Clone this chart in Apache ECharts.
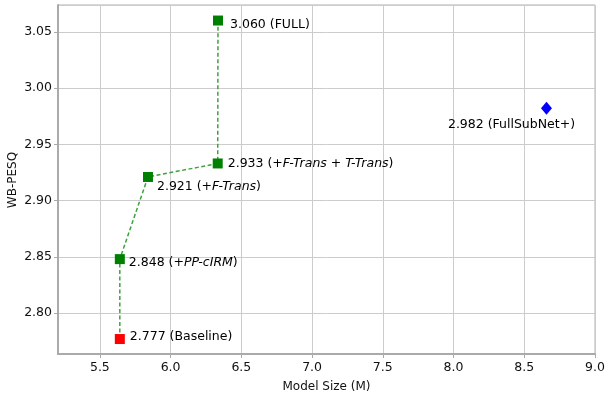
<!DOCTYPE html>
<html><head><meta charset="utf-8">
<script src="https://cdn.jsdelivr.net/npm/echarts@6/dist/echarts.min.js"></script>
<style>html,body{margin:0;padding:0;background:#fff}#c{width:606px;height:394px}</style>
</head><body><div id="c"></div>
<script>
// Ablation path (green) and points
const pathSizes = [5.641, 5.641, 5.84, 6.333, 6.335];
const pathPesq = [2.777, 2.848, 2.921, 2.933, 3.060];
const pathLabels = [
  ['2.777 (Baseline)'],
  ['2.848 (+', 'PP-cIRM', ')'],
  ['2.921 (+', 'F-Trans', ')'],
  ['2.933 (+', 'F-Trans', ' + ', 'T-Trans', ')'],
  ['3.060 (FULL)']
];
const refSize = [8.657];
const refPesq = [2.982];
const refLabel = ['2.982 (FullSubNet+)'];
const xTicks = [5.5, 6.0, 6.5, 7.0, 7.5, 8.0, 8.5, 9.0];
const yTicks = [2.80, 2.85, 2.90, 2.95, 3.00, 3.05];
const xTitle = 'Model Size (M)';
const yTitle = 'WB-PESQ';

const FONT = 'DejaVu Sans';
const offsets = [[10, -2], [9, 4], [9, 10], [10, 0], [12, 4]];
function fmt(parts) {
  return parts.map((p, i) => (i % 2 === 0 ? '{n|' : '{i|') + p + '}').join('');
}
const rich = {
  n: {fontFamily: FONT, fontSize: 12.5, color: '#000'},
  i: {fontFamily: FONT, fontSize: 12.5, color: '#000', fontStyle: 'italic'}
};
const greenPts = pathSizes.map((x, k) => ({
  value: [x, pathPesq[k]],
  itemStyle: {color: k === 0 ? '#ff0000' : '#008000', opacity: 1},
  label: {
    show: true, position: 'inside', align: 'left', verticalAlign: 'middle', color: '#000',
    fontFamily: FONT, fontSize: 12.5,
    offset: offsets[k], formatter: fmt(pathLabels[k]), rich: rich
  }
}));

const chart = echarts.init(document.getElementById('c'), null, {renderer: 'canvas'});
chart.setOption({
  animation: false,
  backgroundColor: '#fff',
  textStyle: {fontFamily: FONT},
  grid: {left: 58, right: 11, top: 5, bottom: 40, outerBoundsMode: 'none', containLabel: false,
    show: true, borderColor: '#b0b0b0', borderWidth: 1},
  graphic: [{
    type: 'text', x: 13, y: 180, rotation: Math.PI / 2,
    style: {text: yTitle, fontFamily: FONT, fontSize: 12, fill: '#111', align: 'center', verticalAlign: 'middle'}
  }],
  xAxis: {
    type: 'value', min: 5.204, max: 9.0, minInterval: 0.5, maxInterval: 0.5,
    name: xTitle, nameLocation: 'middle', nameGap: 27,
    nameTextStyle: {fontFamily: FONT, fontSize: 12, color: '#111'},
    axisLine: {show: true, onZero: false, lineStyle: {color: '#aaaaaa', width: 2}},
    axisTick: {show: true, length: 4, lineStyle: {color: '#aaaaaa'}},
    axisLabel: {showMinLabel: false, fontFamily: FONT, fontSize: 12.5, color: '#111', margin: 7,
      formatter: v => xTicks.some(t => Math.abs(t - v) < 1e-6) ? v.toFixed(1) : ''},
    splitLine: {show: true, lineStyle: {color: '#cccccc', width: 1}}
  },
  yAxis: {
    type: 'value', min: 2.7637, max: 3.0738, minInterval: 0.05, maxInterval: 0.05,
    axisLine: {show: true, onZero: false, lineStyle: {color: '#aaaaaa', width: 2}},
    axisTick: {show: true, length: 4, lineStyle: {color: '#aaaaaa'}},
    axisLabel: {showMinLabel: false, showMaxLabel: false, fontFamily: FONT, fontSize: 12.5, color: '#111', margin: 6,
      formatter: v => yTicks.some(t => Math.abs(t - v) < 1e-6) ? v.toFixed(2) : ''},
    splitLine: {show: true, lineStyle: {color: '#cccccc', width: 1}}
  },
  series: [
    {
      type: 'line', data: pathSizes.map((x, k) => [x, pathPesq[k]]), symbol: 'none',
      lineStyle: {color: '#40a040', width: 1.5, type: [4, 2.5]}, z: 2, silent: true
    },
    {
      type: 'scatter', data: greenPts, symbol: 'rect', symbolSize: 10, z: 3
    },
    {
      type: 'scatter', data: refSize.map((x, k) => ({
        value: [x, refPesq[k]],
        label: {show: true, position: 'inside', align: 'center', verticalAlign: 'middle',
          offset: [-35, 16], formatter: refLabel[k], fontFamily: FONT, fontSize: 12.5, color: '#000'}
      })),
      symbol: 'diamond', symbolSize: [11, 13], itemStyle: {color: '#0000ff', opacity: 1}, z: 3
    }
  ]
});
</script></body></html>
